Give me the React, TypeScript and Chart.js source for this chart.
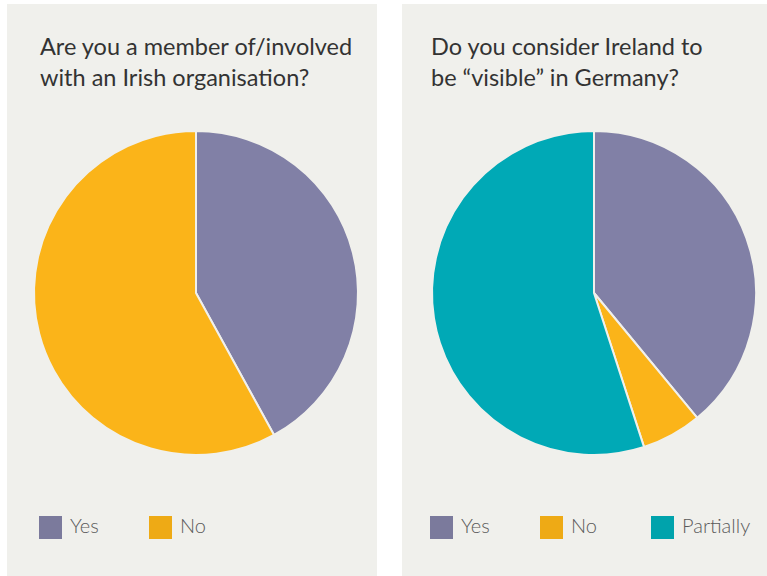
import React, { useEffect, useRef } from "react";
import { Chart, registerables } from "chart.js";

Chart.register(...registerables);

const leftTitle = ["Are you a member of/involved", "with an Irish organisation?"];
const leftLabels = ["Yes", "No"];
const leftValues = [42, 58];
const leftColors = ["#8180a6", "#fbb419"];
const leftLegendColors = ["#7b7a9c", "#eeaa15"];

const rightTitle = ["Do you consider Ireland to", "be \u201cvisible\u201d in Germany?"];
const rightLabels = ["Yes", "No", "Partially"];
const rightValues = [39, 6, 55];
const rightColors = ["#8180a6", "#fbb419", "#00a9b6"];
const rightLegendColors = ["#7b7a9c", "#eeaa15", "#00a3ac"];

const BG = "#f0f0ec";

function Pie({ labels, values, colors, left, top }: { labels: string[]; values: number[]; colors: string[]; left: number; top: number }) {
  const ref = useRef<HTMLCanvasElement | null>(null);
  useEffect(() => {
    if (!ref.current) return;
    const chart = new Chart(ref.current, {
      type: "pie",
      data: {
        labels,
        datasets: [
          {
            data: values,
            backgroundColor: colors,
            borderColor: BG,
            borderWidth: 2,
            hoverOffset: 0,
          },
        ],
      },
      options: {
        responsive: false,
        maintainAspectRatio: false,
        animation: false,
        radius: 162,
        layout: { padding: 0 },
        plugins: { legend: { display: false }, title: { display: false }, tooltip: { enabled: false } },
      } as any,
    });
    return () => chart.destroy();
  }, []);
  return (
    <canvas
      ref={ref}
      width={340}
      height={340}
      style={{ position: "absolute", left, top, width: 340, height: 340 }}
    />
  );
}

function Panel({
  x, width, title, titleX, labels, values, colors, legendColors, pieCx, legendX,
}: {
  x: number; width: number; title: string[]; titleX: number; labels: string[]; values: number[]; colors: string[]; legendColors: string[]; pieCx: number; legendX: number[];
}) {
  return (
    <div style={{ position: "absolute", left: x, top: 4, width, height: 572, background: BG, overflow: "hidden" }}>
      <div
        style={{
          position: "absolute",
          left: titleX - x,
          top: 27,
          fontFamily: "Lato, 'Open Sans', sans-serif",
          fontSize: 23.5,
          lineHeight: "31px",
          color: "#333333",
          whiteSpace: "nowrap",
        }}
      >
        {title.map((t, i) => (
          <div key={i}>{t}</div>
        ))}
      </div>
      <Pie labels={labels} values={values} colors={colors} left={pieCx - x - 170} top={293 - 4 - 170} />
      {labels.map((l, i) => (
        <div key={l} style={{ position: "absolute", left: legendX[i] - x, top: 512, height: 23, display: "flex", alignItems: "center" }}>
          <div style={{ width: 23, height: 23, background: legendColors[i], marginRight: 8 }} />
          <span style={{ fontFamily: "Lato, 'Open Sans', sans-serif", fontWeight: 300, fontSize: 20, color: "#5a5a5a", lineHeight: "23px", position: "relative", top: -2 }}>{l}</span>
        </div>
      ))}
    </div>
  );
}

export default function App() {
  return (
    <div style={{ position: "absolute", left: 0, top: 0, width: 767, height: 576, background: "#ffffff", overflow: "hidden" }}>
      <Panel x={7} width={370} title={leftTitle} titleX={40} labels={leftLabels} values={leftValues} colors={leftColors} legendColors={leftLegendColors} pieCx={196} legendX={[39, 149]} />
      <Panel x={402} width={365} title={rightTitle} titleX={431} labels={rightLabels} values={rightValues} colors={rightColors} legendColors={rightLegendColors} pieCx={594} legendX={[430, 540, 651]} />
    </div>
  );
}
